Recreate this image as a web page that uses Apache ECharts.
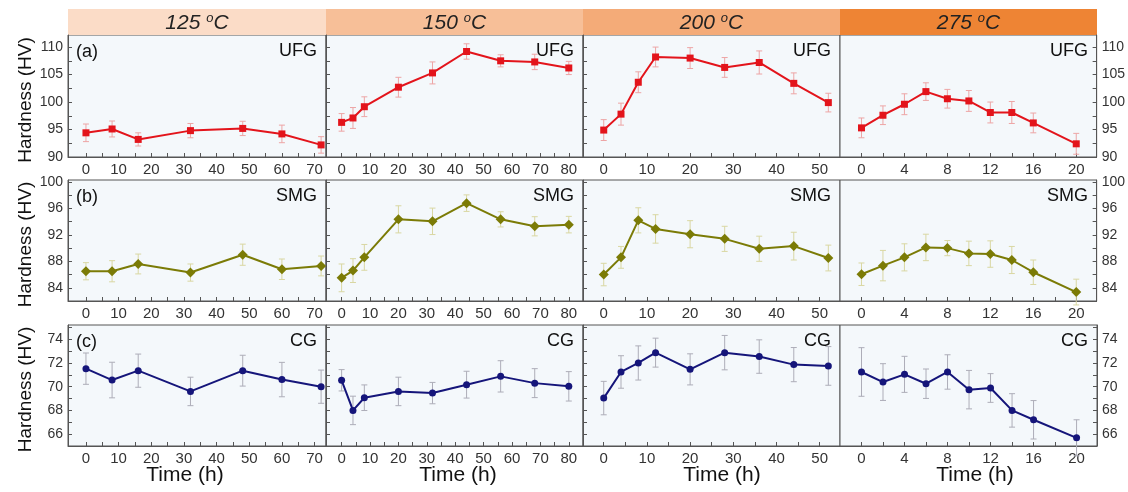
<!DOCTYPE html>
<html>
<head>
<meta charset="utf-8">
<script src="https://cdn.jsdelivr.net/npm/echarts@6/dist/echarts.min.js"></script>
<style>
  html, body { margin: 0; padding: 0; background: #fff; }
  #main { width: 1128px; height: 492px; }
</style>
</head>
<body>
<div id="main"></div>
<script>
// annealing temperatures (column headers)
var temps = ['125', '150', '200', '275'];

// ageing times (h) per temperature
var times125 = [0, 8, 16, 32, 48, 60, 72];
var times150 = [0, 4, 8, 20, 32, 44, 56, 68, 80];
var times200 = [0, 4, 8, 12, 20, 28, 36, 44, 52];
var times275 = [0, 2, 4, 6, 8, 10, 12, 14, 16, 20];

// UFG hardness (HV) and error
var ufg125 = [94.4, 95.1, 93.2, 94.8, 95.2, 94.2, 92.2];
var ufg125Err = [1.6, 1.45, 1.2, 1.3, 1.3, 1.6, 1.5];
var ufg150 = [96.3, 97.1, 99.15, 102.7, 105.3, 109.2, 107.5, 107.3, 106.2];
var ufg150Err = [1.6, 1.9, 1.8, 1.8, 2.0, 1.4, 1.1, 1.4, 1.2];
var ufg200 = [94.9, 97.8, 103.6, 108.2, 108.0, 106.3, 107.2, 103.4, 99.9];
var ufg200Err = [1.9, 2.0, 1.9, 1.8, 1.9, 1.8, 2.1, 1.9, 1.7];
var ufg275 = [95.3, 97.6, 99.6, 101.9, 100.6, 100.2, 98.1, 98.1, 96.2, 92.4];
var ufg275Err = [1.8, 1.7, 1.9, 1.6, 1.7, 1.9, 1.9, 2.0, 1.8, 1.9];

// SMG hardness (HV) and error
var smg125 = [86.5, 86.5, 87.6, 86.3, 89.0, 86.8, 87.3];
var smg125Err = [1.3, 1.6, 1.5, 1.3, 1.6, 1.55, 1.5];
var smg150 = [85.5, 86.6, 88.6, 94.35, 94.05, 96.8, 94.35, 93.3, 93.55];
var smg150Err = [2.1, 1.8, 1.95, 2.05, 2.0, 1.25, 1.15, 1.45, 1.25];
var smg200 = [86.0, 88.6, 94.2, 92.9, 92.1, 91.4, 89.9, 90.3, 88.5];
var smg200Err = [1.7, 1.65, 1.9, 2.15, 2.05, 1.9, 1.9, 2.1, 1.95];
var smg275 = [86.05, 87.35, 88.6, 90.1, 90.0, 89.2, 89.1, 88.2, 86.35, 83.35];
var smg275Err = [1.7, 2.3, 2.05, 2.0, 1.15, 1.85, 2.0, 2.05, 1.85, 1.95];

// CG hardness (HV) and error
var cg125 = [71.52, 70.56, 71.35, 69.6, 71.35, 70.6, 70.0];
var cg125Err = [1.32, 1.5, 1.4, 1.2, 1.3, 1.45, 1.4];
var cg150 = [70.54, 68.0, 69.07, 69.6, 69.46, 70.17, 70.87, 70.3, 70.03];
var cg150Err = [0.9, 1.2, 1.08, 1.2, 0.9, 1.13, 1.32, 1.22, 1.24];
var cg200 = [69.04, 71.24, 72.0, 72.87, 71.46, 72.87, 72.54, 71.86, 71.75];
var cg200Err = [1.41, 1.37, 1.44, 1.22, 1.31, 1.45, 1.41, 1.44, 1.63];
var cg275 = [71.24, 70.39, 71.04, 70.25, 71.24, 69.75, 69.89, 68.0, 67.21, 65.69];
var cg275Err = [2.05, 1.55, 1.52, 1.24, 1.45, 1.62, 1.21, 1.41, 1.62, 1.52];

// tick labels
var xLabels125 = [0, 10, 20, 30, 40, 50, 60, 70];
var xTicks125 = [0, 5, 10, 15, 20, 25, 30, 35, 40, 45, 50, 55, 60, 65, 70];
var xLabels150 = [0, 10, 20, 30, 40, 50, 60, 70, 80];
var xTicks150 = [0, 5, 10, 15, 20, 25, 30, 35, 40, 45, 50, 55, 60, 65, 70, 75, 80];
var xLabels200 = [0, 10, 20, 30, 40, 50];
var xTicks200 = [0, 5, 10, 15, 20, 25, 30, 35, 40, 45, 50];
var xLabels275 = [0, 4, 8, 12, 16, 20];
var xTicks275 = [0, 2, 4, 6, 8, 10, 12, 14, 16, 18, 20];
var yLabelsUfg = [90, 95, 100, 105, 110];
var yTicksUfg = [90, 92.5, 95, 97.5, 100, 102.5, 105, 107.5, 110];
var yLabelsSmg = [84, 88, 92, 96, 100];
var yTicksSmg = [82, 84, 86, 88, 90, 92, 94, 96, 98, 100];
var yLabelsCg = [66, 68, 70, 72, 74];
var yTicksCg = [65, 66, 67, 68, 69, 70, 71, 72, 73, 74, 75];

var times = [times125, times150, times200, times275];
var xLabels = [xLabels125, xLabels150, xLabels200, xLabels275];
var xTicks = [xTicks125, xTicks150, xTicks200, xTicks275];
var xRange = [[-5.5, 73.5], [-5.5, 85], [-4.8, 54.7], [-2, 21.9]];

var rows = [
  { name: 'UFG', tag: '(a)', color: '#e3141b', err: '#eda5a5', symbol: 'rect', size: 7,
    vals: [ufg125, ufg150, ufg200, ufg275], errs: [ufg125Err, ufg150Err, ufg200Err, ufg275Err],
    yr: [90, 112.2], yl: yLabelsUfg, yt: yTicksUfg },
  { name: 'SMG', tag: '(b)', color: '#7b7b06', err: '#d9d7a2', symbol: 'diamond', size: 10,
    vals: [smg125, smg150, smg200, smg275], errs: [smg125Err, smg150Err, smg200Err, smg275Err],
    yr: [82, 100.3], yl: yLabelsSmg, yt: yTicksSmg },
  { name: 'CG', tag: '(c)', color: '#15157a', err: '#adadb8', symbol: 'circle', size: 7,
    vals: [cg125, cg150, cg200, cg275], errs: [cg125Err, cg150Err, cg200Err, cg275Err],
    yr: [65, 75.2], yl: yLabelsCg, yt: yTicksCg }
];

// layout
var colLeft = [68, 326, 583, 840];
var colW = [258, 257, 257, 257];
var rowTop = [35, 180, 325];
var rowH = [122, 121, 121];
var headColors = ['#fbdcc7', '#f7bf98', '#f4ab78', '#ee8434'];
var font = 'Liberation Sans, Arial, sans-serif';

var myChart = echarts.init(document.getElementById('main'));

var grids = [], xAxes = [], yAxes = [], series = [], graphics = [];

function errBar(params, api) {
  var x = api.value(0), y = api.value(1), e = api.value(2);
  var t = api.coord([x, y + e]), b = api.coord([x, y - e]);
  var c = api.visual('color');
  var st = { stroke: c, lineWidth: 1 };
  return { type: 'group', children: [
    { type: 'line', shape: { x1: t[0], y1: t[1], x2: b[0], y2: b[1] }, style: st },
    { type: 'line', shape: { x1: t[0] - 3, y1: t[1], x2: t[0] + 3, y2: t[1] }, style: st },
    { type: 'line', shape: { x1: b[0] - 3, y1: b[1], x2: b[0] + 3, y2: b[1] }, style: st }
  ]};
}

for (var r = 0; r < 3; r++) {
  var row = rows[r];
  for (var c = 0; c < 4; c++) {
    var idx = r * 4 + c;
    grids.push({
      left: colLeft[c], top: rowTop[r], width: colW[c], height: rowH[r],
      show: true, backgroundColor: '#f4f8fb', borderColor: '#555', borderWidth: 1
    });
    xAxes.push({
      type: 'value', gridIndex: idx, min: xRange[c][0], max: xRange[c][1],
      axisLine: { show: true, onZero: false, lineStyle: { color: '#555' } },
      axisTick: { show: true, inside: true, length: 4, customValues: xTicks[c], lineStyle: { color: '#555' } },
      axisLabel: { customValues: xLabels[c], fontSize: 15, color: '#333', margin: 5, fontFamily: font },
      splitLine: { show: false }
    });
    yAxes.push({
      type: 'value', gridIndex: idx, min: row.yr[0], max: row.yr[1],
      position: c === 3 ? 'right' : 'left',
      axisLine: { show: true, onZero: false, lineStyle: { color: '#555' } },
      axisTick: { show: true, inside: true, length: 4, customValues: row.yt, lineStyle: { color: '#555' } },
      axisLabel: { show: c === 0 || c === 3, customValues: row.yl, fontSize: 14, color: '#333', margin: 5, fontFamily: font },
      splitLine: { show: false }
    });
    var lineData = [], errData = [];
    for (var i = 0; i < times[c].length; i++) {
      lineData.push([times[c][i], row.vals[c][i]]);
      errData.push([times[c][i], row.vals[c][i], row.errs[c][i]]);
    }
    series.push({
      type: 'custom', xAxisIndex: idx, yAxisIndex: idx, renderItem: errBar,
      itemStyle: { color: row.err }, data: errData, z: 1, silent: true
    });
    series.push({
      type: 'line', xAxisIndex: idx, yAxisIndex: idx, data: lineData,
      symbol: row.symbol, symbolSize: row.size, showSymbol: true,
      lineStyle: { color: row.color, width: 2 }, itemStyle: { color: row.color },
      z: 3, animation: false
    });
    // sample name in top right corner
    graphics.push({
      type: 'text', x: colLeft[c] + colW[c] - 9, y: rowTop[r] + 16,
      style: { text: row.name, textAlign: 'right', textVerticalAlign: 'middle', fontSize: 18, fill: '#111', fontFamily: font }
    });
  }
  graphics.push({
    type: 'text', x: colLeft[0] + 8, y: rowTop[r] + 17,
    style: { text: row.tag, textAlign: 'left', textVerticalAlign: 'middle', fontSize: 18, fill: '#111', fontFamily: font }
  });
  graphics.push({
    type: 'text', x: 26, y: rowTop[r] + rowH[r] / 2 + 4, rotation: Math.PI / 2,
    style: { text: 'Hardness (HV)', textAlign: 'center', textVerticalAlign: 'middle', fontSize: 19, fill: '#111', fontFamily: font }
  });
}

// headers and x titles
var timeX = [185, 458, 722, 975];
for (var c = 0; c < 4; c++) {
  graphics.push({
    type: 'rect', shape: { x: colLeft[c], y: 9, width: colW[c], height: 26 },
    style: { fill: headColors[c], stroke: null }
  });
  graphics.push({
    type: 'text', x: colLeft[c] + colW[c] / 2, y: 23,
    style: {
      text: '{n|' + temps[c] + ' }{s|o}{n|C}', textAlign: 'center', textVerticalAlign: 'middle',
      rich: {
        n: { fontSize: 21, fontStyle: 'italic', fontFamily: font, fill: '#222' },
        s: { fontSize: 13, fontStyle: 'italic', fontFamily: font, fill: '#222', verticalAlign: 'top', padding: [0, 0, 10, 0] }
      }
    }
  });
  graphics.push({
    type: 'text', x: timeX[c], y: 475,
    style: { text: 'Time (h)', textAlign: 'center', textVerticalAlign: 'middle', fontSize: 21, fill: '#111', fontFamily: font }
  });
}

var option = {
  animation: false,
  grid: grids,
  xAxis: xAxes,
  yAxis: yAxes,
  series: series,
  graphic: graphics
};

myChart.setOption(option);
</script>
</body>
</html>
